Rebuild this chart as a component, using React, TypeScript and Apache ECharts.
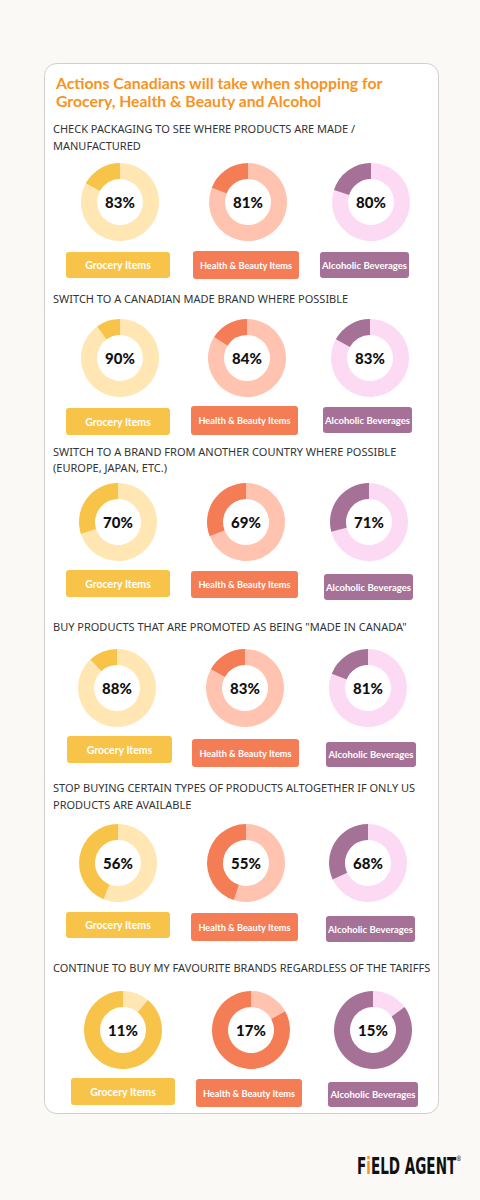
import React, { useEffect, useRef } from "react";
import * as echarts from "echarts";

const titleLines = [
  "Actions Canadians will take when shopping for",
  "Grocery, Health & Beauty and Alcohol",
];
const questions = [
  ["CHECK PACKAGING TO SEE WHERE PRODUCTS ARE MADE /", "MANUFACTURED"],
  ["SWITCH TO A CANADIAN MADE BRAND WHERE POSSIBLE"],
  ["SWITCH TO A BRAND FROM ANOTHER COUNTRY WHERE POSSIBLE", "(EUROPE, JAPAN, ETC.)"],
  ['BUY PRODUCTS THAT ARE PROMOTED AS BEING "MADE IN CANADA"'],
  ["STOP BUYING CERTAIN TYPES OF PRODUCTS ALTOGETHER IF ONLY US", "PRODUCTS ARE AVAILABLE"],
  ["CONTINUE TO BUY MY FAVOURITE BRANDS REGARDLESS OF THE TARIFFS"],
];
const categories = ["Grocery Items", "Health & Beauty Items", "Alcoholic Beverages"];
const grocery = [83, 90, 70, 88, 56, 11];
const healthBeauty = [81, 84, 69, 83, 55, 17];
const alcoholic = [80, 83, 71, 81, 68, 15];

// layout (positions and styles only)
const darkColors = ["#F7C449", "#F47D56", "#A67197"];
const lightColors = ["#FFE6B3", "#FFC3AF", "#FDDAF3"];
const boxFontSizes = [10.5, 9.2, 9.5];
const rows = [
  { hy: [128, 145], cy: 202, cx: [120, 248, 371], boxes: [[66, 252, 104, 26], [193, 251, 106, 28], [320, 252, 89, 26]] },
  { hy: [298], cy: 358, cx: [120, 247, 370], boxes: [[66, 408, 104, 27], [191, 406, 107, 29], [323, 407, 89, 26]] },
  { hy: [451, 467], cy: 522, cx: [118, 246, 369], boxes: [[66, 570, 104, 27], [191, 571, 107, 27], [324, 574, 89, 26]] },
  { hy: [626], cy: 688, cx: [117, 245, 368], boxes: [[67, 736, 105, 27], [192, 739, 107, 28], [326, 742, 90, 25]] },
  { hy: [787, 804], cy: 863, cx: [118, 246, 368], boxes: [[66, 912, 104, 26], [191, 913, 107, 28], [326, 916, 89, 26]] },
  { hy: [967], cy: 1030, cx: [123, 251, 373], boxes: [[71, 1078, 104, 27], [196, 1079, 106, 28], [328, 1082, 90, 25]] },
];

export default function App() {
  const ref = useRef<HTMLDivElement>(null);
  useEffect(() => {
    if (!ref.current) return;
    const chart = echarts.init(ref.current, null, { renderer: "svg" });
    const seriesValues = [grocery, healthBeauty, alcoholic];
    const series: any[] = [];
    const graphic: any[] = [];

    graphic.push({
      type: "rect",
      shape: { x: 44.5, y: 63.5, width: 394, height: 1050, r: 12 },
      style: { fill: "#ffffff", stroke: "#cfcfcf", lineWidth: 1 },
      z: 0,
    });
    titleLines.forEach((t, i) => {
      graphic.push({
        type: "text",
        x: 56,
        y: 82 + i * 18,
        style: {
          text: t,
          fill: "#F7931E",
          font: "bold 15.8px Lato",
          textVerticalAlign: "middle",
        },
        z: 2,
      });
    });

    rows.forEach((row, r) => {
      questions[r].forEach((line, li) => {
        graphic.push({
          type: "text",
          x: 53,
          y: row.hy[li],
          style: {
            text: line,
            fill: "#333333",
            font: "11px 'Noto Sans'",
            textVerticalAlign: "middle",
          },
          z: 2,
        });
      });
      categories.forEach((cat, c) => {
        const v = seriesValues[c][r];
        series.push({
          type: "pie",
          center: [row.cx[c], row.cy],
          radius: [23, 39],
          startAngle: 90,
          clockwise: true,
          silent: true,
          label: { show: false },
          labelLine: { show: false },
          data: [
            {
              value: v,
              name: cat,
              itemStyle: { color: lightColors[c] },
              label: {
                show: true,
                position: "center",
                formatter: "{c}%",
                fontFamily: "Lato",
                fontWeight: 900,
                fontSize: 15,
                color: "#111111",
              },
            },
            { value: 100 - v, name: cat + " (other)", itemStyle: { color: darkColors[c] } },
          ],
        });
        const b = row.boxes[c];
        graphic.push({
          type: "rect",
          shape: { x: b[0], y: b[1], width: b[2], height: b[3], r: 3 },
          style: { fill: darkColors[c] },
          z: 2,
        });
        graphic.push({
          type: "text",
          x: b[0] + b[2] / 2,
          y: b[1] + b[3] / 2,
          style: {
            text: cat,
            fill: "#ffffff",
            font: `bold ${boxFontSizes[c]}px Lato`,
            textAlign: "center",
            textVerticalAlign: "middle",
          },
          z: 3,
        });
      });
    });

    graphic.push({
      type: "text",
      x: 357,
      y: 1166,
      scaleX: 0.655,
      originX: 0,
      originY: 0,
      style: {
        text: "{b|F}{o|i}{b|ELD AGENT}{r|®}",
        textVerticalAlign: "middle",
        rich: {
          b: { fontFamily: "DejaVu Sans Condensed", fontWeight: "bold", fontSize: 23, fill: "#111111" },
          o: { fontFamily: "DejaVu Sans Condensed", fontWeight: "bold", fontSize: 23, fill: "#F7931E" },
          r: { fontFamily: "DejaVu Sans", fontSize: 8, fill: "#111111", verticalAlign: "top" },
        },
      },
      z: 2,
    });

    chart.setOption({
      animation: false,
      backgroundColor: "#FAF9F5",
      graphic,
      series,
    });
    return () => chart.dispose();
  }, []);
  return <div ref={ref} style={{ position: "absolute", left: 0, top: 0, width: 480, height: 1200 }} />;
}
